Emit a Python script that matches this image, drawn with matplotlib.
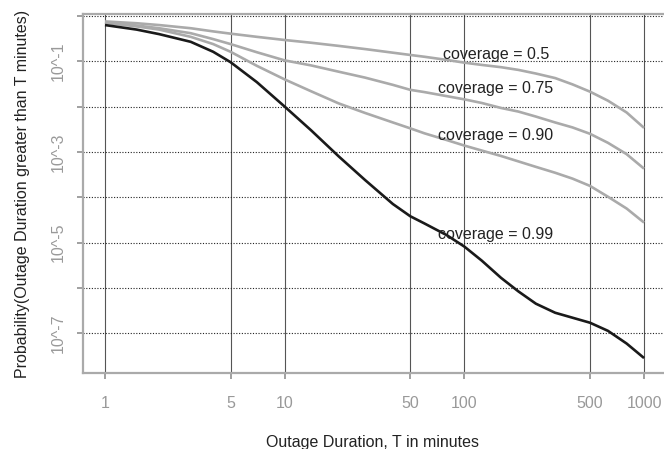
import matplotlib
matplotlib.use("Agg")
import matplotlib.pyplot as plt
from matplotlib.ticker import FixedLocator, NullLocator, FixedFormatter

plt.rcParams['font.family'] = ['Liberation Sans', 'DejaVu Sans']

# outage duration (minutes) and log10 of P(duration > T)
minutes = [1, 1.5, 2, 3, 4, 5, 7, 10, 14, 20, 28, 40, 50, 60, 80, 100,
           125, 160, 200, 250, 320, 400, 500, 630, 800, 1000]
cov_050 = [-0.12, -0.16, -0.20, -0.27, -0.34, -0.39, -0.46, -0.53, -0.59, -0.66,
           -0.73, -0.81, -0.86, -0.90, -0.97, -1.03, -1.08, -1.13, -1.19, -1.27,
           -1.37, -1.51, -1.67, -1.87, -2.13, -2.47]
cov_075 = [-0.14, -0.21, -0.27, -0.38, -0.51, -0.62, -0.80, -0.98, -1.09, -1.23,
           -1.36, -1.52, -1.63, -1.68, -1.77, -1.84, -1.92, -2.03, -2.11, -2.22,
           -2.35, -2.46, -2.60, -2.80, -3.05, -3.37]
cov_090 = [-0.15, -0.23, -0.30, -0.46, -0.62, -0.79, -1.10, -1.40, -1.66, -1.93,
           -2.14, -2.35, -2.48, -2.59, -2.74, -2.86, -2.97, -3.09, -3.21, -3.33,
           -3.46, -3.59, -3.75, -3.99, -4.25, -4.56]
cov_099 = [-0.20, -0.30, -0.40, -0.57, -0.79, -1.02, -1.46, -2.00, -2.52, -3.10,
           -3.62, -4.15, -4.42, -4.58, -4.84, -5.09, -5.40, -5.78, -6.08, -6.35,
           -6.55, -6.66, -6.77, -6.95, -7.23, -7.55]

curve_labels = ['coverage = 0.5', 'coverage = 0.75', 'coverage = 0.90', 'coverage = 0.99']
label_pos = [(150, -0.86), (150, -1.61), (150, -2.63), (150, -4.83)]

x_ticks = [1, 5, 10, 50, 100, 500, 1000]
y_exps = [0, -1, -2, -3, -4, -5, -6, -7]
y_tick_labels = ['', '10^-1', '', '10^-3', '', '10^-5', '', '10^-7']

fig = plt.figure(figsize=(6.64, 4.49), dpi=100)
ax = fig.add_axes([83 / 664, 1 - 373 / 449, 1 - 83 / 664, (373 - 14) / 449])

ax.set_xscale('log')
ax.set_yscale('log')

for vals, col in [(cov_050, '#aaaaaa'), (cov_075, '#aaaaaa'), (cov_090, '#aaaaaa'), (cov_099, '#1a1a1a')]:
    ax.plot(minutes, [10 ** v for v in vals], color=col, lw=1.9, solid_capstyle='butt',
            solid_joinstyle='round', zorder=3)

for txt, (tx, ty) in zip(curve_labels, label_pos):
    ax.text(tx, 10 ** ty, txt, ha='center', va='center', fontsize=11.5, color='#222222', zorder=4)

ax.set_xlim(10 ** -0.1224, 10 ** 3.111)
ax.set_ylim(10 ** -7.88, 10 ** 0.044)

ax.xaxis.set_major_locator(FixedLocator(x_ticks))
ax.xaxis.set_major_formatter(FixedFormatter([str(t) for t in x_ticks]))
ax.xaxis.set_minor_locator(NullLocator())
ax.yaxis.set_major_locator(FixedLocator([10.0 ** e for e in y_exps]))
ax.yaxis.set_major_formatter(FixedFormatter(y_tick_labels))
ax.yaxis.set_minor_locator(NullLocator())

ax.set_axisbelow(True)
ax.grid(axis='x', color='#555555', lw=0.8, ls='-')
ax.grid(axis='y', color='#222222', lw=0.8, ls=(0, (1, 1.5)))

for s in ['left', 'bottom', 'top']:
    ax.spines[s].set_color('#aaaaaa')
    ax.spines[s].set_linewidth(1.6)
ax.spines['right'].set_visible(False)

ax.tick_params(axis='x', colors='#999999', length=4.5, width=1.3, pad=12, labelsize=11.5)
ax.tick_params(axis='y', colors='#999999', length=4.5, width=1.3, pad=8, labelsize=11.5)
for lab in ax.get_yticklabels():
    lab.set_rotation(90)
    lab.set_va('center')

fig.text(373 / 664, 1 - 442 / 449, 'Outage Duration, T in minutes', ha='center', va='center',
         fontsize=11.5, color='#222222')
fig.text(23 / 664, 1 - 194 / 449, 'Probability(Outage Duration greater than T minutes)',
         ha='center', va='center', rotation=90, fontsize=11.5, color='#222222')

fig.savefig('out.png', dpi=100)
